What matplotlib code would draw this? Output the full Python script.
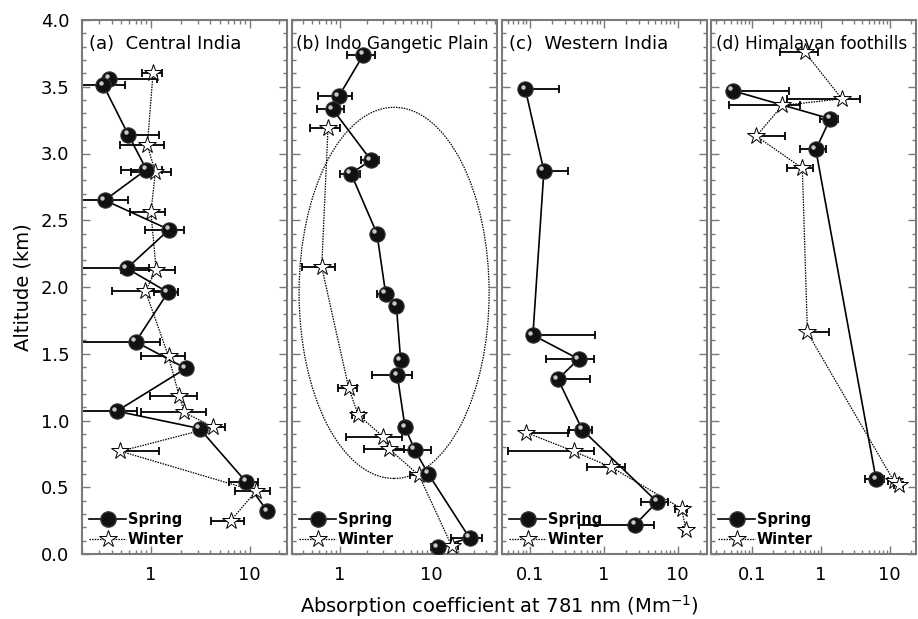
import numpy as np
import matplotlib
matplotlib.use("Agg")
import matplotlib.pyplot as plt
from matplotlib.lines import Line2D
from matplotlib.patches import Ellipse
from matplotlib.ticker import LogLocator, FuncFormatter, MultipleLocator, NullFormatter
from matplotlib.transforms import ScaledTranslation

# ---------------- data ----------------
titles = ["(a)  Central India", "(b) Indo Gangetic Plain", "(c)  Western India", "(d) Himalayan foothills"]
xlims = [(0.2, 24), (0.3, 53), (0.042, 25), (0.0256, 24)]

a_spring_alt = [3.56, 3.51, 3.14, 2.88, 2.65, 2.43, 2.14, 1.96, 1.59, 1.39, 1.07, 0.94, 0.54, 0.32]
a_spring_val = [0.38, 0.33, 0.59, 0.90, 0.34, 1.53, 0.57, 1.49, 0.70, 2.26, 0.45, 3.11, 9.24, 15.2]
a_spring_err = [0.77, 0.22, 0.63, 0.40, 0.25, 0.65, 0.38, 0.41, 0.53, 0.0, 0.27, 0.0, 3.0, 0.0]
a_winter_alt = [3.60, 3.06, 2.86, 2.56, 2.13, 1.97, 1.48, 1.18, 1.06, 0.95, 0.77, 0.47, 0.25]
a_winter_val = [1.05, 0.92, 1.11, 1.00, 1.13, 0.88, 1.51, 1.94, 2.19, 4.31, 0.49, 11.6, 6.46]
a_winter_err = [0.24, 0.43, 0.48, 0.39, 0.63, 0.48, 0.71, 0.97, 1.4, 1.3, 0.72, 4.4, 2.4]

b_spring_alt = [3.74, 3.43, 3.33, 2.95, 2.85, 2.40, 1.95, 1.86, 1.45, 1.34, 0.95, 0.78, 0.60, 0.12, 0.05]
b_spring_val = [1.82, 0.98, 0.84, 2.20, 1.33, 2.56, 3.19, 4.18, 4.66, 4.28, 5.2, 6.63, 9.36, 26.5, 11.9]
b_spring_err = [0.63, 0.40, 0.27, 0.50, 0.33, 0.0, 0.6, 0.0, 0.0, 2.0, 0.0, 3.3, 1.0, 9.7, 2.0]
b_winter_alt = [3.19, 2.15, 1.24, 1.04, 0.88, 0.79, 0.59, 0.06]
b_winter_val = [0.745, 0.635, 1.26, 1.60, 2.98, 3.44, 7.39, 16.9]
b_winter_err = [0.27, 0.25, 0.30, 0.25, 1.8, 1.6, 1.5, 3.0]

c_spring_alt = [3.48, 2.87, 1.64, 1.46, 1.31, 0.93, 0.39, 0.22]
c_spring_val = [0.087, 0.155, 0.110, 0.458, 0.24, 0.514, 5.29, 2.66]
c_spring_err = [0.16, 0.17, 0.645, 0.29, 0.405, 0.17, 2.1, 2.2]
c_winter_alt = [0.91, 0.77, 0.65, 0.34, 0.18]
c_winter_val = [0.089, 0.39, 1.27, 11.3, 13.0]
c_winter_err = [0.24, 0.34, 0.67, 2.0, 1.0]

d_spring_alt = [3.47, 3.26, 3.03, 0.56]
d_spring_val = [0.053, 1.37, 0.846, 6.32]
d_spring_err = [0.29, 0.40, 0.34, 1.9]
d_winter_alt = [3.76, 3.41, 3.36, 3.13, 2.89, 1.66, 0.545, 0.52]
d_winter_val = [0.585, 2.02, 0.277, 0.116, 0.54, 0.64, 11.5, 13.5]
d_winter_err = [0.33, 1.7, 0.23, 0.19, 0.22, 0.68, 2.0, 2.0]

panels = [
    (a_spring_alt, a_spring_val, a_spring_err, a_winter_alt, a_winter_val, a_winter_err),
    (b_spring_alt, b_spring_val, b_spring_err, b_winter_alt, b_winter_val, b_winter_err),
    (c_spring_alt, c_spring_val, c_spring_err, c_winter_alt, c_winter_val, c_winter_err),
    (d_spring_alt, d_spring_val, d_spring_err, d_winter_alt, d_winter_val, d_winter_err),
]

# ---------------- figure ----------------
plt.rcParams['font.family'] = ['DejaVu Sans']
W, H = 918, 619
fig = plt.figure(figsize=(W / 100, H / 100), dpi=100)

lefts = [82, 292, 502, 711]
pw = 205
top_px, bot_px = 20, 554
spine_col = '#7a7a7a'
dot_ls = (0, (1.2, 0.9))
title_x = [0.035, 0.02, 0.035, 0.025]
title_fs = [13, 12.2, 13, 12.2]


def draw_series(ax, alt, val, err, kind):
    alt = np.asarray(alt, float)
    val = np.asarray(val, float)
    err = np.asarray(err, float)
    lower = np.where(val - err > 0, err, 0.0)
    ax.errorbar(val, alt, xerr=[lower, err], fmt='none', ecolor='black',
                elinewidth=1.3, capsize=3, capthick=1.3, zorder=2)
    if kind == 'spring':
        ax.plot(val, alt, '-', color='black', lw=1.2, zorder=3)
        ax.plot(val, alt, 'o', ms=11, mfc='#111111', mec='#333333', mew=0.8, zorder=4)
        off = ScaledTranslation(-1.8 / 72, 1.8 / 72, fig.dpi_scale_trans)
        ax.plot(val, alt, 'o', ms=3.2, mfc='#c8c8c8', mec='none', zorder=5,
                transform=ax.transData + off)
    else:
        ax.plot(val, alt, linestyle=dot_ls, color='black', lw=0.9, zorder=3)
        ax.plot(val, alt, '*', ms=13, mfc='white', mec='black', mew=0.7, zorder=4)


for i, (pdata, title, xl) in enumerate(zip(panels, titles, xlims)):
    ax = fig.add_axes([lefts[i] / W, (H - bot_px) / H, pw / W, (bot_px - top_px) / H])
    s_alt, s_val, s_err, w_alt, w_val, w_err = pdata
    draw_series(ax, w_alt, w_val, w_err, 'winter')
    draw_series(ax, s_alt, s_val, s_err, 'spring')

    ax.set_xscale('log')
    ax.set_xlim(*xl)
    ax.set_ylim(0, 4)
    ax.xaxis.set_major_locator(LogLocator(base=10, numticks=10))
    ax.xaxis.set_minor_locator(LogLocator(base=10, subs=np.arange(2, 10), numticks=20))
    ax.xaxis.set_major_formatter(FuncFormatter(lambda v, p: f"{v:g}"))
    ax.xaxis.set_minor_formatter(NullFormatter())
    ax.yaxis.set_major_locator(MultipleLocator(0.5))
    ax.yaxis.set_minor_locator(MultipleLocator(0.1))
    ax.tick_params(which='both', direction='in', top=True, right=True, color=spine_col, width=1.0)
    ax.tick_params(which='major', length=6, labelsize=13, pad=9)
    ax.tick_params(which='minor', length=3)
    if i == 0:
        ax.yaxis.set_major_formatter(FuncFormatter(lambda v, p: f"{v:.1f}"))
        ax.set_ylabel("Altitude (km)", fontsize=14, labelpad=6)
    else:
        ax.tick_params(axis='y', labelleft=False)
    for sp in ax.spines.values():
        sp.set_color(spine_col)
        sp.set_linewidth(1.5)

    ax.text(title_x[i], 0.955, title, transform=ax.transAxes,
            fontsize=title_fs[i], va='center', ha='left')

    if i == 1:
        ell = Ellipse((0.498, 0.489), 0.927, 0.695, transform=ax.transAxes,
                      fill=False, ec='black', lw=0.9, linestyle=dot_ls, zorder=1)
        ax.add_patch(ell)

    handles = [
        Line2D([], [], color='black', lw=1.2, marker='o', ms=11, mfc='#111111', mec='#333333'),
        Line2D([], [], color='black', lw=0.9, linestyle=dot_ls, marker='*', ms=13,
               mfc='white', mec='black', mew=0.7),
    ]
    ax.legend(handles, ['Spring', 'Winter'], loc='lower left', frameon=False,
              prop={'weight': 'bold', 'size': 10.5}, handlelength=2.5, handletextpad=0.15,
              labelspacing=0.3, borderaxespad=0.3, borderpad=0.2)

fig.text((lefts[0] + lefts[3] + pw) / 2 / W, 1 - 606 / H,
         "Absorption coefficient at 781 nm (Mm$^{-1}$)", ha='center', va='center', fontsize=14)

fig.savefig("out.png", dpi=100)
